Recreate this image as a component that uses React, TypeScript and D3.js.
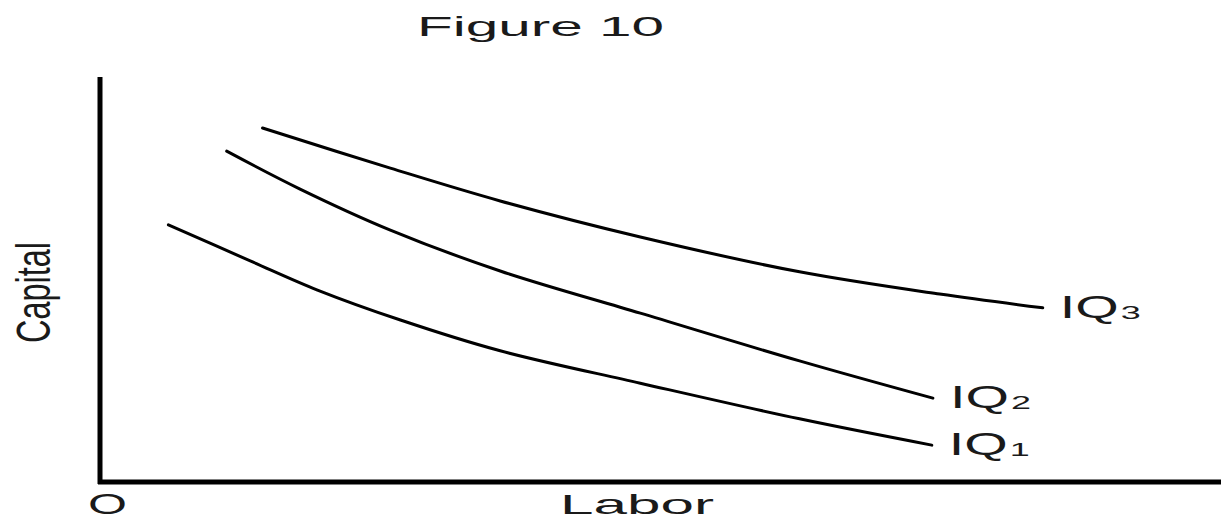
import React from "react";
import * as d3 from "d3";

// Isoquant curves (labor, capital) in arbitrary units (0-100)
const iq1Labor = [6.1, 13.4, 19.4, 26.8, 35.7, 48.2, 62.4, 74.2];
const iq1Capital = [63.5, 54.6, 47.4, 40.0, 32.4, 24.4, 15.6, 9.1];
const iq2Labor = [11.3, 17.8, 25.9, 35.7, 48.2, 62.4, 74.3];
const iq2Capital = [81.7, 72.4, 62.2, 52.1, 41.7, 29.9, 20.7];
const iq3Labor = [14.5, 25.9, 35.7, 48.2, 62.4, 74.9, 84.1];
const iq3Capital = [87.4, 77.5, 69.4, 60.5, 51.9, 46.4, 43.0];
const curveNames = ["1", "2", "3"];

const W = 1225;
const H = 519;

export default function App() {
  const x = d3.scaleLinear().domain([0, 100]).range([100, 1221]);
  const y = d3.scaleLinear().domain([0, 100]).range([482, 77]);
  const line = d3
    .line<[number, number]>()
    .x((d) => x(d[0]))
    .y((d) => y(d[1]))
    .curve(d3.curveCatmullRom.alpha(0.5));

  const series = [
    { labor: iq1Labor, capital: iq1Capital, name: curveNames[0] },
    { labor: iq2Labor, capital: iq2Capital, name: curveNames[1] },
    { labor: iq3Labor, capital: iq3Capital, name: curveNames[2] },
  ];

  const font = "'Liberation Sans', Arial, sans-serif";
  const ink = "#1a1a1a";

  return (
    <svg
      width={W}
      height={H}
      style={{ position: "absolute", left: 0, top: 0, display: "block", background: "#fff" }}
    >
      <rect width={W} height={H} fill="#fff" />
      <text x={417} y={36} fontFamily={font} fontSize={28} fill={ink} textLength={247} lengthAdjust="spacingAndGlyphs">
        Figure 10
      </text>
      {/* axes */}
      <line x1={x(0)} y1={y(100)} x2={x(0)} y2={y(0) + 2} stroke="#000" strokeWidth={5} />
      <line x1={x(0) - 2} y1={y(0)} x2={x(100)} y2={y(0)} stroke="#000" strokeWidth={5} />
      {/* curves */}
      {series.map((s) => {
        const pts = s.labor.map((l, i) => [l, s.capital[i]] as [number, number]);
        const last = pts[pts.length - 1];
        const lx = x(last[0]) + 17;
        const ly = y(last[1]) + 10;
        return (
          <g key={s.name}>
            <path d={line(pts) || ""} fill="none" stroke="#000" strokeWidth={3} strokeLinecap="round" />
            <text x={lx} y={ly} fontFamily={font} fontSize={31} fill={ink} textLength={59} lengthAdjust="spacingAndGlyphs">
              IQ
            </text>
            <text x={lx + 61} y={ly + 1} fontFamily={font} fontSize={19} fill={ink} textLength={20} lengthAdjust="spacingAndGlyphs">
              {s.name}
            </text>
          </g>
        );
      })}
      {/* axis labels */}
      <text x={88} y={514} fontFamily={font} fontSize={30} fill={ink} textLength={39} lengthAdjust="spacingAndGlyphs">
        O
      </text>
      <text x={560} y={514} fontFamily={font} fontSize={28} fill={ink} textLength={154} lengthAdjust="spacingAndGlyphs">
        Labor
      </text>
      <text
        transform="translate(50,343) scale(1.5,1) rotate(-90)"
        fontFamily={font}
        fontSize={32.5}
        fill={ink}
        textLength={101}
        lengthAdjust="spacingAndGlyphs"
      >
        Capital
      </text>
    </svg>
  );
}
